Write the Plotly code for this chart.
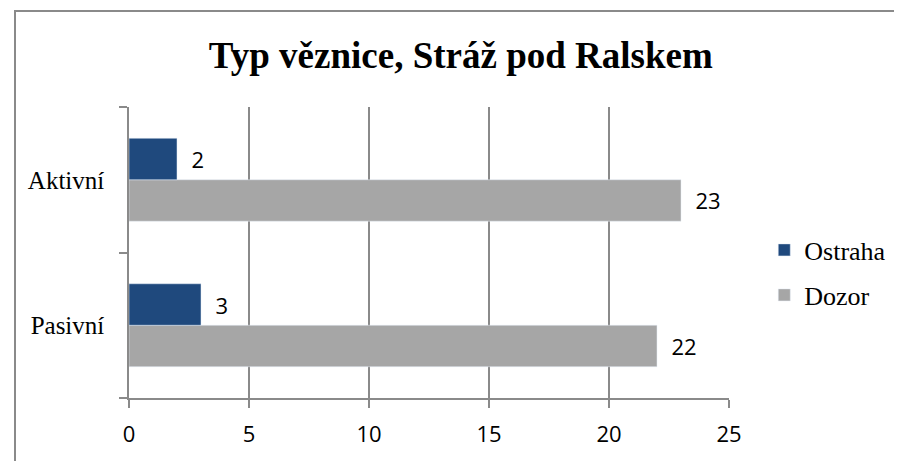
import plotly.graph_objects as go

categories = ["Pasivní", "Aktivní"]
ostraha = [3, 2]
dozor = [22, 23]
x_ticks = [0, 5, 10, 15, 20, 25]

SERIF = "Liberation Serif, Times New Roman, serif"
SANS = "Open Sans, Liberation Sans, sans-serif"
AXIS_GREY = "#8a8a8a"

fig = go.Figure()

fig.add_trace(go.Bar(
    y=categories, x=dozor, name="Dozor", orientation="h",
    marker=dict(color="#a6a6a6"),
    text=dozor, texttemplate="\u00a0\u00a0%{x}", textposition="outside",
    textangle=0, constraintext="none", cliponaxis=False,
    textfont=dict(family=SANS, size=22, color="black"),
    legend="legend2", showlegend=True, hoverinfo="x+name",
))
fig.add_trace(go.Bar(
    y=categories, x=ostraha, name="Ostraha", orientation="h",
    marker=dict(color="#1f497d"),
    text=ostraha, texttemplate="\u00a0\u00a0%{x}", textposition="outside",
    textangle=0, constraintext="none", cliponaxis=False,
    textfont=dict(family=SANS, size=22, color="black"),
    legend="legend", showlegend=True, hoverinfo="x+name",
))

# chart frame (Excel chart area border)
fig.add_shape(type="rect", xref="paper", yref="paper",
              x0=-0.19, x1=1.30, y0=-0.25, y1=1.3299,
              line=dict(color=AXIS_GREY, width=2), fillcolor="rgba(0,0,0,0)",
              layer="below")

legend_common = dict(xanchor="left", yanchor="middle", x=1.057,
                     font=dict(family=SERIF, size=26, color="black"),
                     bgcolor="rgba(0,0,0,0)", itemwidth=30)

fig.update_layout(
    showlegend=True,
    barmode="group",
    bargap=0.43,
    bargroupgap=0,
    title=dict(text="<b>Typ věznice, Stráž pod Ralskem</b>",
               x=0.553, xref="paper", xanchor="center", y=0.896, yanchor="middle",
               font=dict(family=SERIF, size=37, color="black")),
    xaxis=dict(
        range=[0, 25], tickvals=x_ticks,
        showgrid=True, gridcolor=AXIS_GREY, gridwidth=1.5,
        zeroline=False, showline=True, linecolor=AXIS_GREY, linewidth=1.5,
        ticks="outside", ticklen=8, tickcolor=AXIS_GREY, tickwidth=1.5,
        tickfont=dict(family=SANS, size=22, color="black"),
        ticklabelstandoff=8,
        fixedrange=True,
    ),
    yaxis=dict(
        showgrid=False, zeroline=False, showline=True,
        linecolor=AXIS_GREY, linewidth=1.5,
        ticks="outside", tickson="boundaries", ticklen=8,
        tickcolor=AXIS_GREY, tickwidth=1.5,
        tickfont=dict(family=SERIF, size=25, color="black"),
        ticklabelstandoff=18,
        fixedrange=True,
    ),
    legend=dict(y=0.5086, **legend_common),
    legend2=dict(y=0.354, **legend_common),
    plot_bgcolor="white",
    paper_bgcolor="white",
    margin=dict(l=121, r=172, t=99, b=63),
    width=894,
    height=453,
)

fig.write_html("out.html")
